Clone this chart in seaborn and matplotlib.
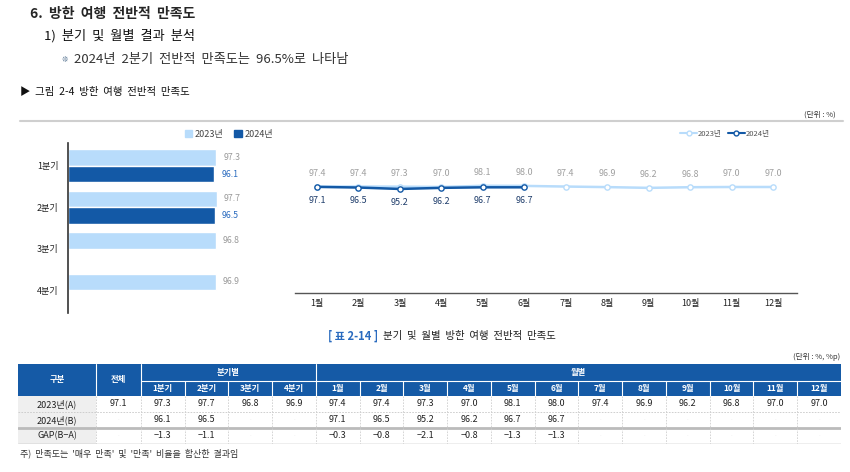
import numpy as np
import pandas as pd
import seaborn as sns
import matplotlib.pyplot as plt
from matplotlib.patches import Rectangle
from matplotlib.lines import Line2D

sns.set_style('white')
plt.rcParams['font.family'] = ['Noto Sans CJK KR', 'DejaVu Sans']

# 데이터
quarters = ['1분기', '2분기', '3분기', '4분기']
q2023 = [97.3, 97.7, 96.8, 96.9]
q2024 = [96.1, 96.5, np.nan, np.nan]
months = [f'{m}월' for m in range(1, 13)]
m2023 = [97.4, 97.4, 97.3, 97.0, 98.1, 98.0, 97.4, 96.9, 96.2, 96.8, 97.0, 97.0]
m2024 = [97.1, 96.5, 95.2, 96.2, 96.7, 96.7]
total2023 = 97.1
gap_q = ['-1.3', '-1.1', '-', '-']
gap_m = ['-0.3', '-0.8', '-2.1', '-0.8', '-1.3', '-1.3'] + ['-'] * 6

LIGHT = '#b8dcfb'
DARK = '#1359a6'
HEAD = '#155aa6'

W, H = 850, 472
fig = plt.figure(figsize=(W / 100, H / 100), dpi=100)

def fx(px):
    return px / W

def fy(py):
    return 1 - py / H

# 제목 텍스트
fig.text(fx(30), fy(14), '6.  방한  여행  전반적  만족도', fontsize=10, fontweight='bold', va='center')
fig.text(fx(44), fy(36), '1)  분기  및  월별  결과  분석', fontsize=9.5, va='center', color='#111111')
fig.text(fx(62), fy(59), '❊', fontsize=5.5, va='center', color='#4a6a8a', family=['DejaVu Sans'])
fig.text(fx(74), fy(59), '2024년  2분기  전반적  만족도는  96.5%로  나타남', fontsize=9.5, va='center',
         color='#333333')
fig.text(fx(20), fy(92), '▶  그림  2-4  방한  여행  전반적  만족도', fontsize=7.5, va='center', color='#111111')
fig.text(fx(836), fy(115), '(단위 : %)', fontsize=5.5, ha='right', va='center', color='#333333')
fig.add_artist(Line2D([fx(20), fx(843)], [fy(121), fy(121)], color='#cfcfcf', lw=1.5))

# 막대 그래프
bar_df = pd.DataFrame({
    '분기': quarters * 2,
    '값': q2023 + q2024,
    '연도': ['2023년'] * 4 + ['2024년'] * 4,
})
axb = fig.add_axes([fx(68), fy(313), fx(260 - 68), (313 - 143) / H])
sns.barplot(data=bar_df, y='분기', x='값', hue='연도', orient='h', saturation=1,
            palette=[LIGHT, DARK], width=0.8, ax=axb, legend=False)
axb.set_xlim(0, 126)
axb.set_ylim(3.55, -0.55)
axb.set_xlabel('')
axb.set_ylabel('')
axb.set_xticks([])
axb.tick_params(axis='y', length=0, labelsize=6.5, pad=7, labelcolor='#222222')
for s in ['top', 'right', 'bottom']:
    axb.spines[s].set_visible(False)
axb.spines['left'].set_color('#333333')
axb.spines['left'].set_linewidth(1.2)
label_colors = ['#9a9a9a', '#2a6bbf']
for cont, col in zip(axb.containers, label_colors):
    labels = ['' if np.isnan(v) else f'{v:.1f}' for v in cont.datavalues]
    axb.bar_label(cont, labels=labels, padding=5, fontsize=6.3, color=col)
handles = [Rectangle((0, 0), 1, 1, color=LIGHT), Rectangle((0, 0), 1, 1, color=DARK)]
fig.legend(handles, ['2023년', '2024년'], loc='center', bbox_to_anchor=(fx(229), fy(134)),
           ncol=2, frameon=False, fontsize=6.5, handlelength=0.8, handleheight=0.8,
           handletextpad=0.3, columnspacing=1.2, labelcolor='#444444')

# 꺾은선 그래프
line_df = pd.DataFrame({
    '월': list(range(1, 13)) + list(range(1, 7)),
    '값': m2023 + m2024,
    '연도': ['2023년'] * 12 + ['2024년'] * 6,
})
axl = fig.add_axes([fx(295), fy(293), fx(797 - 295), (293 - 140) / H])
sns.lineplot(data=line_df, x='월', y='값', hue='연도', palette=[LIGHT, DARK],
             marker='o', markersize=3.8, markerfacecolor='white', markeredgewidth=1,
             linewidth=1.8, ax=axl, legend=False)
for ln in axl.lines:
    ln.set_markeredgecolor(ln.get_color())
axl.set_xlim(1 - 22 / 41.45, 12 + 24 / 41.45)
axl.set_ylim(0, 140)
axl.set_xticks(range(1, 13))
axl.set_xticklabels(months)
axl.set_yticks([])
axl.set_xlabel('')
axl.set_ylabel('')
axl.tick_params(axis='x', length=0, labelsize=6.5, pad=4, labelcolor='#222222')
for s in ['top', 'right', 'left']:
    axl.spines[s].set_visible(False)
axl.spines['bottom'].set_color('#555555')
axl.spines['bottom'].set_linewidth(1.0)
for i, v in enumerate(m2023):
    axl.annotate(f'{v:.1f}', (i + 1, v), xytext=(0, 9.5), textcoords='offset points',
                 ha='center', va='center', fontsize=6.5, color='#a0a0a0')
for i, v in enumerate(m2024):
    axl.annotate(f'{v:.1f}', (i + 1, v), xytext=(0, -9.5), textcoords='offset points',
                 ha='center', va='center', fontsize=6.5, color='#1f3d6b')
lh = [Line2D([], [], color=LIGHT, lw=1.5, marker='o', ms=3.5, mfc='white', mec=LIGHT),
      Line2D([], [], color=DARK, lw=1.5, marker='o', ms=3.5, mfc='white', mec=DARK)]
fig.legend(lh, ['2023년', '2024년'], loc='center', bbox_to_anchor=(fx(725), fy(134)),
           ncol=2, frameon=False, fontsize=5.5, handlelength=2.2, handletextpad=0.1,
           columnspacing=0.8, labelcolor='#555555')

# 표
fig.text(fx(378), fy(336), '[ 표 2-14 ]', fontsize=8, fontweight='bold', color='#2a6bbf',
         ha='right', va='center')
fig.text(fx(383), fy(336), '분기  및  월별  방한  여행  전반적  만족도', fontsize=7.5, color='#222222',
         ha='left', va='center')
fig.text(fx(840), fy(357), '(단위 : %, %p)', fontsize=5.5, ha='right', va='center', color='#333333')
fig.text(fx(20), fy(453), "주)  만족도는  '매우  만족'  및  '만족'  비율을  합산한  결과임", fontsize=6.5,
         va='center', color='#333333')

col_w = [78, 45] + [43.75] * 16
col_x = np.concatenate([[18], 18 + np.cumsum(col_w)])
row_y = [364, 381, 396, 412, 428, 444]
axt = fig.add_axes([fx(18), fy(444), fx(823), 80 / H])
axt.set_xlim(18, 841)
axt.set_ylim(444, 364)
axt.axis('off')

axt.add_patch(Rectangle((18, 364), 823, 32, color=HEAD, lw=0))
axt.add_patch(Rectangle((18, 396), 78, 48, color='#efefef', lw=0))
# 헤더 구분선
for k in [1, 2, 6]:
    axt.plot([col_x[k], col_x[k]], [364, 396], color='white', lw=0.8)
for k in range(3, 18):
    if k != 6:
        axt.plot([col_x[k], col_x[k]], [381, 396], color='white', lw=0.8)
axt.plot([col_x[2], col_x[-1]], [381, 381], color='white', lw=0.8)

hdr = dict(fontsize=6, color='white', ha='center', va='center', fontweight='bold')
axt.text((col_x[0] + col_x[1]) / 2, 380, '구분', **hdr)
axt.text((col_x[1] + col_x[2]) / 2, 380, '전체', **hdr)
axt.text((col_x[2] + col_x[6]) / 2, 372.5, '분기별', **hdr)
axt.text((col_x[6] + col_x[-1]) / 2, 372.5, '월별', **hdr)
for k, lab in enumerate(quarters + months):
    axt.text((col_x[k + 2] + col_x[k + 3]) / 2, 388.5, lab, **hdr)

# 본문 선
axt.plot([18, 841], [412, 412], color='#c8c8c8', lw=0.6, ls=(0, (2, 1.5)))
axt.plot([18, 841], [428, 428], color='#bbbbbb', lw=2)
axt.plot([18, 841], [444, 444], color='#aaaaaa', lw=1)
for k in range(1, 18):
    axt.plot([col_x[k], col_x[k]], [396, 444], color='#cfcfcf', lw=0.6, ls=(0, (2, 1.5)))

rows = [
    ['2023년(A)', f'{total2023:.1f}'] + [f'{v:.1f}' for v in q2023] + [f'{v:.1f}' for v in m2023],
    ['2024년(B)', '-'] + ['-' if np.isnan(v) else f'{v:.1f}' for v in q2024]
    + [f'{v:.1f}' for v in m2024] + ['-'] * 6,
    ['GAP(B-A)', '-'] + gap_q + gap_m,
]
for r, row in enumerate(rows):
    yc = (row_y[r + 2] + row_y[r + 3]) / 2
    for k, val in enumerate(row):
        xc = (col_x[k] + col_x[k + 1]) / 2
        if val == '-':
            axt.text(xc, yc, '-', fontsize=3, color='#dddddd', ha='center', va='center')
        else:
            axt.text(xc, yc, val.replace('-', '−'), fontsize=6.5, color='#222222',
                     ha='center', va='center')

fig.savefig('out.png', dpi=100)
